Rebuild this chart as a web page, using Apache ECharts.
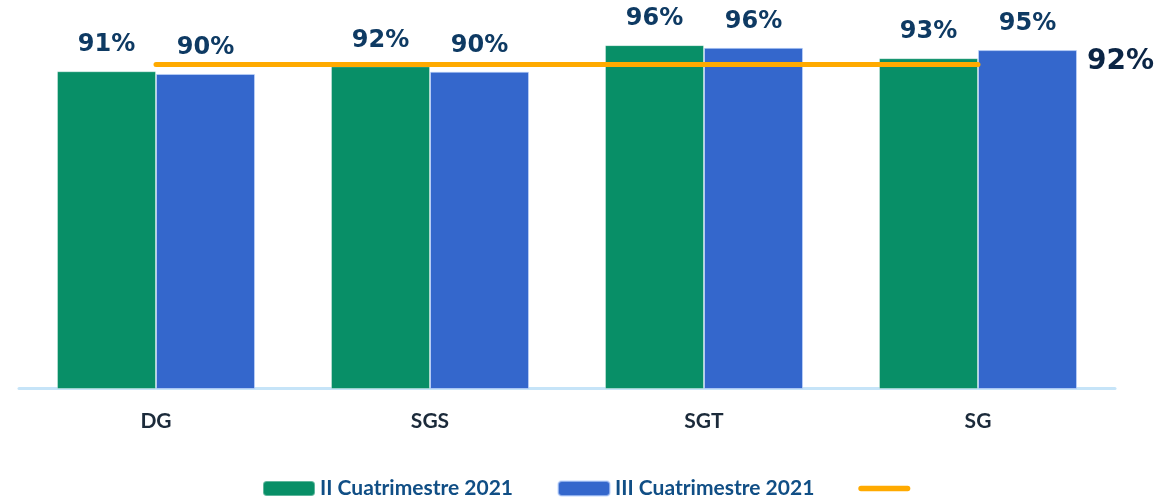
<!DOCTYPE html>
<html>
<head>
<meta charset="utf-8">
<script src="https://cdn.jsdelivr.net/npm/echarts@6/dist/echarts.min.js"></script>
<style>html,body{margin:0;padding:0;background:#fff;}#c{width:1176px;height:498px;}</style>
</head>
<body>
<div id="c"></div>
<script>
const categories = ['DG', 'SGS', 'SGT', 'SG'];
const serie2 = [90.5, 91.6, 96.3, 93.4];
const serie3 = [89.9, 90.4, 95.7, 95.2];
const meta = [92, 92, 92, 92];
const names = ['II Cuatrimestre 2021', 'III Cuatrimestre 2021', 'Meta'];

const chart = echarts.init(document.getElementById('c'));
const barLabel = {
  show: true, position: 'top', distance: 14,
  fontFamily: 'DejaVu Sans', fontWeight: 'bold', fontSize: 24, color: '#0E3A63',
  formatter: p => Math.round(p.value) + '%'
};
chart.setOption({
  animation: false,
  grid: { left: 19, right: 61, top: 28.5, bottom: 109.5 },
  xAxis: {
    type: 'category', data: categories,
    axisLine: { show: true, lineStyle: { color: '#C6E4F8', width: 3 } },
    axisTick: { show: false },
    axisLabel: { margin: 22, fontFamily: 'Lato', fontWeight: 'bold', fontSize: 21, color: '#1B2A3A' }
  },
  yAxis: { type: 'value', min: 20, max: 100, show: false, splitLine: { show: false } },
  legend: {
    left: 257, top: 473, itemWidth: 52, itemHeight: 15, itemGap: 44,
    data: [names[0], names[1], { name: names[2], icon: 'path://M3,0 L55,0 A3,3 0 0 1 55,6 L3,6 A3,3 0 0 1 3,0 Z' }],
    formatter: n => n === 'Meta' ? '' : n,
    textStyle: { fontFamily: 'Lato', fontWeight: 'bold', fontSize: 21, color: '#104E85' }
  },
  series: [
    { name: names[0], type: 'bar', data: serie2, barWidth: 99, barGap: '0%',
      itemStyle: { color: '#088F67', borderColor: 'rgba(255,255,255,0.35)', borderWidth: 1 }, label: barLabel },
    { name: names[1], type: 'bar', data: serie3, barWidth: 99,
      itemStyle: { color: '#3467CC', borderColor: 'rgba(200,220,255,0.6)', borderWidth: 1 }, label: barLabel },
    { name: names[2], type: 'line', data: meta, symbol: 'none', z: 5,
      lineStyle: { color: '#FFAA00', width: 5, cap: 'round' },
      itemStyle: { color: '#FFAA00' },
      endLabel: { show: true, formatter: p => p.value + '%', offset: [101, -3],
        fontFamily: 'DejaVu Sans', fontWeight: 'bold', fontSize: 28, color: '#0B2545' } }
  ]
});
</script>
</body>
</html>
